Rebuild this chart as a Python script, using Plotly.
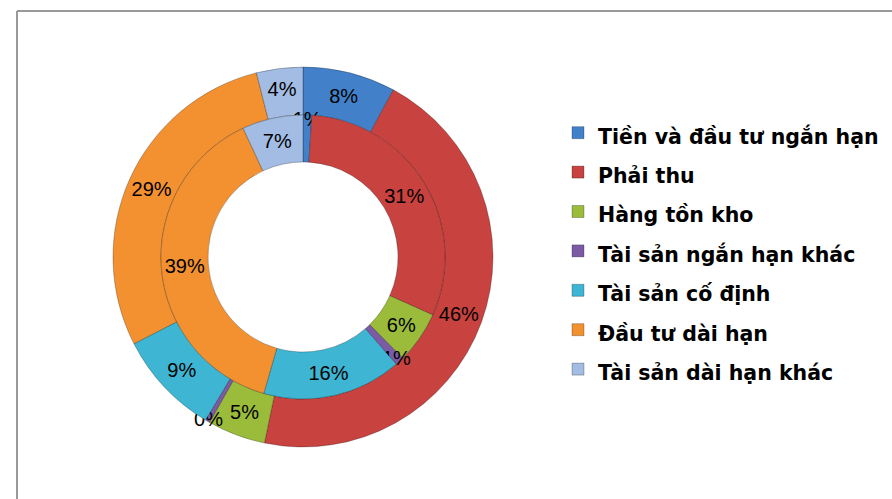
import plotly.graph_objects as go

categories = [
    "Tiền và đầu tư ngắn hạn",
    "Phải thu",
    "Hàng tồn kho",
    "Tài sản ngắn hạn khác",
    "Tài sản cố định",
    "Đầu tư dài hạn",
    "Tài sản dài hạn khác",
]
outer_values = [8, 46, 5, 0.4, 9, 29, 4]
inner_values = [1, 31, 6, 1, 16, 39, 7]
colors = ["#4281C9", "#C8423F", "#9BBB3B", "#7B5BA5", "#3DB5D3", "#F39130", "#A3BCE3"]

labels = ['<span style="font-size:20.5px;font-family:DejaVu Sans"><b>%s</b></span>' % c for c in categories]

W, H = 892, 499
cx, cy = 303, 257
r_out, r_mid, r_in = 190, 142, 95


def dom(r):
    return dict(
        x=[(cx - r) / W, (cx + r) / W],
        y=[(H - cy - r) / H, (H - cy + r) / H],
    )


common = dict(
    labels=labels,
    sort=False,
    direction="clockwise",
    rotation=0,
    texttemplate="%{value:.0f}%",
    textposition="inside",
    insidetextorientation="horizontal",
    textfont=dict(family="Liberation Sans, Arial", size=20, color="#000000"),
    marker=dict(colors=colors, line=dict(color="rgba(0,0,0,0.25)", width=1)),
    hoverinfo="label+value",
)

fig = go.Figure()
fig.add_trace(go.Pie(values=outer_values, hole=r_mid / r_out, domain=dom(r_out), **common))
fig.add_trace(go.Pie(values=inner_values, hole=r_in / r_mid, domain=dom(r_mid), showlegend=False, **common))

fig.update_layout(
    width=W,
    height=H,
    margin=dict(l=0, r=0, t=0, b=0),
    paper_bgcolor="white",
    plot_bgcolor="white",
    uniformtext=dict(minsize=20, mode="show"),
    showlegend=True,
    legend=dict(
        x=558 / W,
        y=1 - 108 / H,
        xanchor="left",
        yanchor="top",
        font=dict(family="DejaVu Sans", size=28, color="#000000"),
        bgcolor="rgba(0,0,0,0)",
        traceorder="normal",
    ),
    shapes=[
        dict(type="line", xref="paper", yref="paper", x0=17 / W, x1=1.0,
             y0=1 - 11 / H, y1=1 - 11 / H, line=dict(color="#999999", width=2)),
        dict(type="line", xref="paper", yref="paper", x0=17 / W, x1=17 / W,
             y0=0, y1=1 - 11 / H, line=dict(color="#999999", width=2)),
    ],
)

fig.write_html("out.html", config={"displayModeBar": False},
               post_script="document.body.style.margin='0';")
